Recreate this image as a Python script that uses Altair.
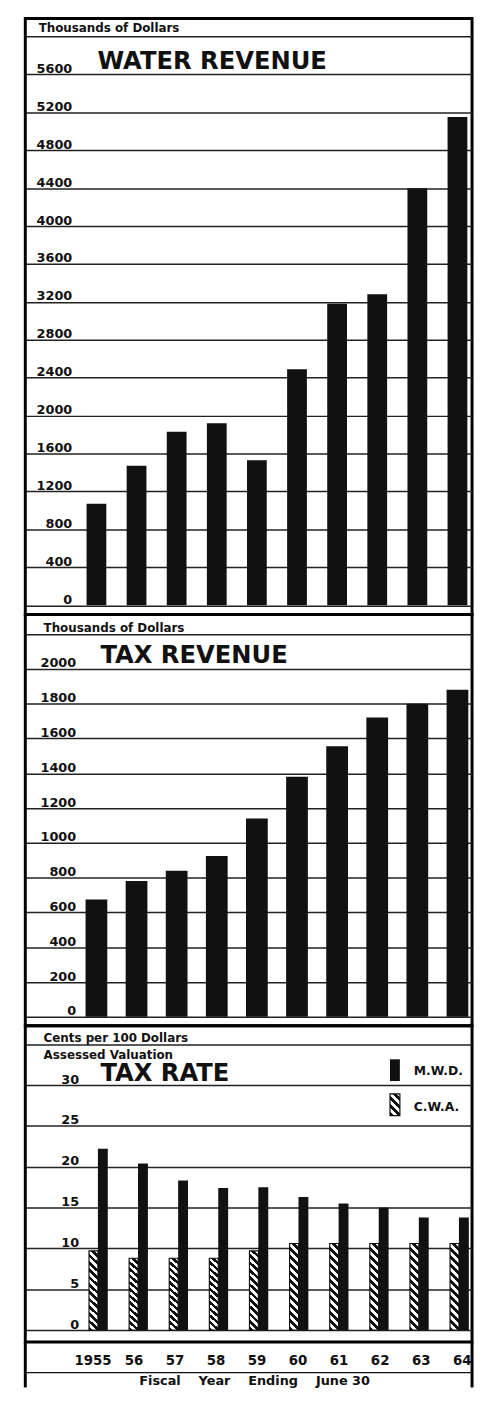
import altair as alt
import pandas as pd

# ---------------- data ----------------
years = [1955, 1956, 1957, 1958, 1959, 1960, 1961, 1962, 1963, 1964]
year_labels = ["1955", "56", "57", "58", "59", "60", "61", "62", "63", "64"]
water_revenue = [1070, 1470, 1830, 1920, 1530, 2490, 3180, 3280, 4400, 5150]   # thousands of dollars
tax_revenue = [675, 780, 840, 925, 1140, 1380, 1555, 1720, 1800, 1880]         # thousands of dollars
mwd_rate = [22.2, 20.4, 18.3, 17.4, 17.5, 16.3, 15.5, 15.0, 13.8, 13.8]       # cents per $100
cwa_rate = [9.7, 8.8, 8.8, 8.8, 9.7, 10.6, 10.6, 10.6, 10.6, 10.6]            # cents per $100

water_ticks = [0, 400, 800, 1200, 1600, 2000, 2400, 2800, 3200, 3600, 4000, 4400, 4800, 5200, 5600, 6000]
tax_ticks = [0, 200, 400, 600, 800, 1000, 1200, 1400, 1600, 1800, 2000, 2200]
rate_ticks = [0, 5, 10, 15, 20, 25, 30, 35]

panel_titles = ["WATER REVENUE", "TAX REVENUE", "TAX RATE"]
unit_water = "Thousands of Dollars"
unit_tax = "Thousands of Dollars"
unit_rate = ["Cents per 100 Dollars", "Assessed Valuation"]
legend_labels = ["M.W.D.", "C.W.A."]
GAP = "\u00a0\u00a0\u00a0\u00a0"
x_title = "Fiscal" + GAP + "Year" + GAP + "Ending" + GAP + "June\u00a030"

# ---------------- styling ----------------
INK = "#111111"
FONT = "DejaVu Sans"
W = 452

df = pd.DataFrame({
    "year": years, "label": year_labels, "water": water_revenue,
    "tax": tax_revenue, "mwd": mwd_rate, "cwa": cwa_rate,
})

X = alt.X("year:Q", scale=alt.Scale(domain=[1953.35, 1964.24], nice=False, zero=False), axis=None)


def y_axis(ticks, unit, pad, tx, ty):
    top = ticks[-1]
    return alt.Axis(values=ticks, format="d",
                    labelExpr=f"datum.value >= {top} ? '' : datum.label",
                    labelPadding=pad,
                    title=unit, titleX=tx, titleY=ty, titleAngle=0,
                    titleAlign="left", titleBaseline="alphabetic")


def hatch(k, periods, black=0.5):
    a = (1 + k) / (1 + k * k)
    stops = []
    for i in range(periods):
        s = i / periods
        m = (i + black) / periods
        e = (i + 1) / periods
        stops += [alt.GradientStop(offset=s, color=INK), alt.GradientStop(offset=m, color=INK),
                  alt.GradientStop(offset=m, color="white"), alt.GradientStop(offset=e, color="white")]
    return alt.LinearGradient(gradient="linear", stops=stops, x1=0, y1=1, x2=a, y2=1 - k * a)


def title_text(text, x, y):
    return alt.Chart(pd.DataFrame({"t": [text]})).mark_text(
        align="left", baseline="alphabetic", font=FONT, fontSize=24.5,
        fontWeight="bold", color=INK
    ).encode(x=alt.value(x), y=alt.value(y), text="t:N")


# ---------------- panel 1: water revenue ----------------
y1 = alt.Y("water:Q", scale=alt.Scale(domain=[-99, 6189], nice=False, zero=False),
           axis=y_axis(water_ticks, unit_water, -47, 13, 13))
p1 = alt.layer(
    alt.Chart(df).mark_bar(size=20, color=INK, clip=True).encode(x=X, y=y1),
    title_text(panel_titles[0], 73, 51.5),
).properties(width=W, height=603)

# ---------------- panel 2: tax revenue ----------------
y2 = alt.Y("tax:Q", scale=alt.Scale(domain=[-51, 2312], nice=False, zero=False),
           axis=y_axis(tax_ticks, unit_tax, -51, 18, 17))
p2 = alt.layer(
    alt.Chart(df).mark_bar(size=22, color=INK, clip=True).encode(x=X, y=y2),
    title_text(panel_titles[1], 76, 49),
).properties(width=W, height=416)

# ---------------- panel 3: tax rate ----------------
rate_scale = alt.Scale(domain=[-1.45, 37.26], nice=False, zero=False)
rate_axis = y_axis(rate_ticks, unit_rate, -54, 18, 16)
cwa_bars = alt.Chart(df).mark_bar(size=9, xOffset=-3, fill=hatch(9.3, 12, 0.5), stroke=INK,
                                  strokeWidth=1.2, clip=True).encode(
    x=X, y=alt.Y("cwa:Q", scale=rate_scale, axis=rate_axis))
mwd_bars = alt.Chart(df).mark_bar(size=10, xOffset=6.5, color=INK, clip=True).encode(
    x=X, y=alt.Y("mwd:Q", scale=rate_scale, axis=rate_axis))

leg_mwd = alt.Chart(pd.DataFrame({"s": [legend_labels[0]]}))
leg_cwa = alt.Chart(pd.DataFrame({"s": [legend_labels[1]]}))
legend_layers = [
    leg_mwd.mark_rect(color=INK).encode(x=alt.value(369), x2=alt.value(379), y=alt.value(34), y2=alt.value(56)),
    leg_cwa.mark_rect(fill=hatch(2.2, 4, 0.5), stroke=INK, strokeWidth=1.2).encode(
        x=alt.value(369), x2=alt.value(379), y=alt.value(69), y2=alt.value(91)),
    leg_mwd.mark_text(align="left", baseline="alphabetic", font=FONT, fontSize=12.5,
                      fontWeight="bold", color=INK).encode(x=alt.value(393), y=alt.value(50), text="s:N"),
    leg_cwa.mark_text(align="left", baseline="alphabetic", font=FONT, fontSize=12.5,
                      fontWeight="bold", color=INK).encode(x=alt.value(393), y=alt.value(86), text="s:N"),
]
p3 = alt.layer(cwa_bars, mwd_bars, title_text(panel_titles[2], 76, 56), *legend_layers).properties(
    width=W, height=320)

# ---------------- panel 4: years and axis title ----------------
H4 = 46
year_text = alt.Chart(df).mark_text(baseline="alphabetic", font=FONT, fontSize=13.5,
                                    fontWeight="bold", color=INK).encode(
    x=X, y=alt.value(23), text="label:N")
one = alt.Chart(pd.DataFrame({"s": [x_title]}))
sep = one.mark_rule(color=INK, strokeWidth=1.5).encode(y=alt.value(31))
left_side = one.mark_rule(color="black", strokeWidth=3).encode(x=alt.value(0))
right_side = one.mark_rule(color="black", strokeWidth=3).encode(x=alt.value(W))
xt = one.mark_text(baseline="alphabetic", font=FONT, fontSize=13,
                   fontWeight="bold", color=INK).encode(x=alt.value(232), y=alt.value(44), text="s:N")
p4 = alt.layer(year_text, sep, left_side, right_side, xt).properties(
    width=W, height=H4, view=alt.ViewBackground(stroke="transparent"))

chart = alt.vconcat(p1, p2, p3, p4, spacing=0, bounds="flush").properties(
    padding={"left": 14.5, "top": 0.5, "right": 0, "bottom": 0},
    background="white",
).configure_view(
    stroke="black", strokeWidth=3
).configure_axis(
    grid=True, gridColor="#222222", gridWidth=1.5, gridOpacity=1,
    domain=False, ticks=False, tickSize=0, minExtent=0,
    labelAlign="right", labelBaseline="alphabetic", labelOffset=-2,
    labelFont=FONT, labelFontSize=13, labelFontWeight="bold", labelColor=INK,
    labelFlush=False, labelOverlap=False, labelBound=False,
    titleFont=FONT, titleFontSize=12, titleFontWeight="bold", titleColor=INK,
    titleLineHeight=17,
)

chart.save("out.html", embed_options={"renderer": "svg", "actions": False})
